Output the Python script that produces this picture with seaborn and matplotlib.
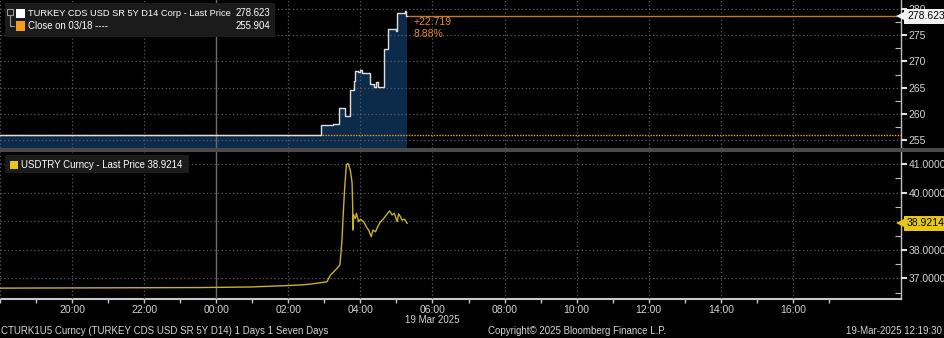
import numpy as np
import pandas as pd
import matplotlib
matplotlib.use("Agg")
import matplotlib.pyplot as plt
import matplotlib.dates as mdates
from matplotlib.ticker import MultipleLocator, FixedLocator, FuncFormatter
from matplotlib.patches import Rectangle
from matplotlib.lines import Line2D
import seaborn as sns

# ---------------- data ----------------
start = pd.Timestamp("2025-03-18 18:00")
span_hours = 25.0  # 18:00 (18 Mar) -> 19:00 (19 Mar)

# TURKEY CDS USD SR 5Y D14 (hours after 18:00 on 18 Mar)
cds_hours = [0.0, 8.917, 9.25, 9.40, 9.58, 9.72, 9.81, 9.86, 9.93, 10.0, 10.05,
             10.26, 10.37, 10.44, 10.48, 10.65, 10.76, 11.0, 11.02, 11.23, 11.26, 11.30]
cds_values = [255.904, 257.9, 258.0, 261.1, 259.6, 264.5, 266.2, 268.1, 267.9, 268.3, 267.7,
              265.6, 265.1, 266.0, 265.1, 272.3, 276.2, 275.8, 279.2, 279.6, 278.623, 278.623]
cds_last = 278.623
cds_close = 255.904
cds_change = "+22.719"
cds_change_pct = "8.88%"
cds_ticks = [255, 260, 265, 270, 275, 280]

# USDTRY
try_hours = [0.0, 5.56, 6.94, 7.78, 8.33, 8.61, 9.07, 9.17, 9.26, 9.35, 9.43, 9.46, 9.49,
             9.52, 9.56, 9.61, 9.66, 9.72, 9.77, 9.80, 9.81, 9.86, 9.89, 9.95, 10.0, 10.09,
             10.19, 10.23, 10.30, 10.35, 10.42, 10.48, 10.56, 10.65, 10.72, 10.81, 10.88,
             10.94, 11.02, 11.06, 11.11, 11.16, 11.22, 11.30]
try_values = [36.66, 36.68, 36.70, 36.74, 36.77, 36.80, 36.88, 37.12, 37.23, 37.35, 37.47,
              37.88, 38.37, 39.16, 40.09, 40.97, 41.02, 40.79, 40.33, 38.69, 39.22, 39.10,
              39.28, 38.98, 39.07, 38.98, 38.75, 38.69, 38.46, 38.69, 38.63, 38.81, 38.98,
              39.10, 39.22, 39.36, 39.22, 39.28, 38.98, 39.26, 39.16, 39.04, 39.07, 38.9214]
try_last = 38.9214
try_ticks = [37, 38, 39, 40, 41]

# x axis: labelled 2-hour ticks (hours after start) and hourly minor ticks
x_major_hours = [0, 2, 4, 6, 8, 10, 12, 14, 16, 18, 20, 22]
x_major_labels = ["", "20:00", "22:00", "00:00", "02:00", "04:00", "06:00",
                  "08:00", "10:00", "12:00", "14:00", "16:00"]
x_minor_hours = [1, 3, 5, 7, 9, 11, 13, 15, 17, 19, 21, 23]

cds_label = "TURKEY CDS USD SR 5Y D14 Corp - Last Price"
close_label = "Close on 03/18 ----"
try_label = "USDTRY Curncy - Last Price"
date_label = "19 Mar 2025"
footer_left = "CTURK1U5 Curncy (TURKEY CDS USD SR 5Y D14) 1 Days 1 Seven Days"
footer_mid = "Copyright\u00a9 2025 Bloomberg Finance L.P."
footer_right = "19-Mar-2025 12:19:30"

# ---------------- style ----------------
sns.set_theme(style="dark")
plt.rcParams['font.family'] = ['Liberation Sans', 'DejaVu Sans']
plt.rcParams['axes.facecolor'] = 'black'
plt.rcParams['figure.facecolor'] = 'black'

W, H = 945, 338
FS = 7
LFS = 6.9
TXT = '#d4d4d4'
GRID = '#5c5c5c'
NAVY = '#0c2a4a'
ORANGE = '#e58a25'
ORANGE_LINE = '#c8782e'
YELLOW = '#c9b22a'
YELLOW_BOX = '#e6c619'

cds_t = start + pd.to_timedelta(cds_hours, unit='h')
try_t = start + pd.to_timedelta(try_hours, unit='h')
end = start + pd.Timedelta(hours=span_hours)
midnight = pd.Timestamp("2025-03-19 00:00")
major_t = [mdates.date2num(start + pd.Timedelta(hours=h)) for h in x_major_hours]
minor_t = [mdates.date2num(start + pd.Timedelta(hours=h)) for h in x_minor_hours]

fig = plt.figure(figsize=(W / 100, H / 100), dpi=100, facecolor='black')


def fx(x):
    return x / W


def fy(y):
    return 1 - y / H


ax1 = fig.add_axes([0, fy(148), fx(901), 148 / H])
ax2 = fig.add_axes([0, fy(299), fx(901), 147 / H])

for ax in (ax1, ax2):
    ax.set_facecolor('black')
    ax.set_xlim(start, end)
    ax.set_axisbelow(False)
    ax.xaxis.set_major_locator(FixedLocator(major_t))
    ax.xaxis.set_minor_locator(FixedLocator(minor_t))
    ax.xaxis.set_major_formatter(FuncFormatter(
        lambda v, p: x_major_labels[p] if p is not None and p < len(x_major_labels) else ""))
    ax.grid(True, which='major', color=GRID, linestyle=(0, (1, 2)), linewidth=0.9)
    ax.axvline(midnight, color='#6a6a6a', lw=1.0, zorder=2.6)
    for s in ('left', 'top', 'bottom'):
        ax.spines[s].set_visible(False)
    ax.spines['right'].set_color('#bdbdbd')
    ax.spines['right'].set_linewidth(1.0)
    ax.yaxis.tick_right()
    ax.tick_params(axis='y', which='major', direction='out', length=4, width=1.5,
                   colors='#e0e0e0', labelcolor=TXT, labelsize=FS + 0.5, pad=1.5)
    ax.tick_params(axis='y', which='minor', direction='in', length=4, width=0.8,
                   colors='#bdbdbd', right=True)

# ---------- top panel: CDS ----------
ax1.set_ylim(253.5, 281.7)
ax1.fill_between(cds_t, cds_values, 253.5, step='post', color=NAVY, lw=0, zorder=1)
sns.lineplot(x=cds_t, y=cds_values, ax=ax1, drawstyle='steps-post', color='#dedede',
             lw=1.0, zorder=4, legend=False)
ax1.axhline(cds_close, color='#f0a020', ls=(0, (1, 1)), lw=1.0, zorder=3)
ax1.plot([cds_t[-1], end], [cds_last, cds_last], color=ORANGE_LINE, lw=1.0, zorder=3)
ax1.yaxis.set_major_locator(FixedLocator(cds_ticks))
ax1.yaxis.set_minor_locator(MultipleLocator(2.5))
ax1.yaxis.set_major_formatter(FuncFormatter(lambda v, p: f"{v:.0f}"))
ax1.tick_params(axis='x', which='both', bottom=False, labelbottom=False)
ax1.set_xlabel('')
ax1.set_ylabel('')

ax1.annotate(cds_change, xy=(cds_t[-1], cds_last), xytext=(6, -6), textcoords='offset pixels',
             ha='left', va='center', color=ORANGE, fontsize=FS + 0.5, zorder=5)
ax1.annotate(cds_change_pct, xy=(cds_t[-1], cds_last), xytext=(6, -18), textcoords='offset pixels',
             ha='left', va='center', color=ORANGE, fontsize=FS + 0.5, zorder=5)
ax1.annotate(f"{cds_last:.3f}", xy=(1, cds_last), xycoords=('axes fraction', 'data'),
             xytext=(6, 0), textcoords='offset pixels', ha='left', va='center',
             color='black', fontsize=FS + 0.5, annotation_clip=False, zorder=6,
             bbox=dict(boxstyle='square,pad=0.25', fc='#f2f2f2', ec='none'))
ax1.plot([1.0], [cds_last], marker='<', ms=7, color='#f2f2f2', mew=0,
         transform=ax1.get_yaxis_transform(), clip_on=False, zorder=6)

# ---------- bottom panel: USDTRY ----------
ax2.set_ylim(36.28, 41.42)
sns.lineplot(x=try_t, y=try_values, ax=ax2, color=YELLOW, lw=1.0, zorder=4, legend=False)
ax2.yaxis.set_major_locator(FixedLocator(try_ticks))
ax2.yaxis.set_minor_locator(MultipleLocator(0.5))
ax2.yaxis.set_major_formatter(FuncFormatter(lambda v, p: f"{v:.4f}"))
ax2.spines['bottom'].set_visible(True)
ax2.spines['bottom'].set_color('#c8c8c8')
ax2.spines['bottom'].set_linewidth(1.5)
ax2.tick_params(axis='x', which='major', direction='out', length=3, width=1,
                colors='#c8c8c8', labelcolor=TXT, labelsize=FS + 0.5, pad=1, bottom=True)
ax2.tick_params(axis='x', which='minor', direction='out', length=3, width=1,
                colors='#c8c8c8', bottom=True)
ax2.set_xlabel('')
ax2.set_ylabel('')
ax2.annotate(f"{try_last:.4f}", xy=(1, try_last), xycoords=('axes fraction', 'data'),
             xytext=(6, 0), textcoords='offset pixels', ha='left', va='center',
             color='black', fontsize=FS + 0.5, annotation_clip=False, zorder=6,
             bbox=dict(boxstyle='square,pad=0.25', fc=YELLOW_BOX, ec='none'))
ax2.plot([1.0], [try_last], marker='<', ms=7, color=YELLOW_BOX, mew=0,
         transform=ax2.get_yaxis_transform(), clip_on=False, zorder=6)

# ---------- separator and legend boxes ----------
fig.add_artist(Rectangle((0, fy(151.5)), 1, 3.5 / H, transform=fig.transFigure,
                         fc='#4a4a4a', ec='none', zorder=10))

fig.add_artist(Rectangle((fx(5), fy(37)), fx(270), 34 / H, transform=fig.transFigure,
                         fc='#1b1b1b', ec='none', zorder=10))
# tree icon
fig.add_artist(Rectangle((fx(7), fy(15)), fx(6), 6 / H, transform=fig.transFigure,
                         fc='none', ec='#9a9a9a', lw=0.8, zorder=11))
fig.add_artist(Line2D([fx(10), fx(10), fx(14)], [fy(15), fy(26), fy(26)],
                      transform=fig.transFigure, color='#9a9a9a', lw=0.8, zorder=11))
fig.add_artist(Rectangle((fx(16), fy(18)), fx(9), 9 / H, transform=fig.transFigure,
                         fc='white', ec='none', zorder=11))
fig.add_artist(Rectangle((fx(16), fy(30.5)), fx(9), 9 / H, transform=fig.transFigure,
                         fc='#f39c1e', ec='none', zorder=11))
fig.text(fx(28), fy(13.5), cds_label, color='white', fontsize=LFS - 0.2, va='center', ha='left', zorder=12)
fig.text(fx(270), fy(13.5), f"{cds_last:.3f}", color='white', fontsize=LFS, va='center', ha='right', zorder=12)
fig.text(fx(28), fy(26), close_label, color='white', fontsize=LFS, va='center', ha='left', zorder=12)
fig.text(fx(270), fy(26), f"{cds_close:.3f}", color='white', fontsize=LFS, va='center', ha='right', zorder=12)

fig.add_artist(Rectangle((fx(5), fy(173)), fx(184), 18 / H, transform=fig.transFigure,
                         fc='#1b1b1b', ec='none', zorder=10))
fig.add_artist(Rectangle((fx(10), fy(169.5)), fx(8), 8 / H, transform=fig.transFigure,
                         fc=YELLOW_BOX, ec='none', zorder=11))
fig.text(fx(21), fy(165.5), f"{try_label} {try_last:.4f}", color='white', fontsize=LFS,
         va='center', ha='left', zorder=12)

# ---------- footer ----------
fig.text(fx(432), fy(320), date_label, color=TXT, fontsize=FS, ha='center', va='center')
fig.text(fx(1), fy(331), footer_left, color=TXT, fontsize=FS, ha='left', va='center')
fig.text(fx(577), fy(331), footer_mid, color=TXT, fontsize=FS, ha='center', va='center')
fig.text(fx(942), fy(331), footer_right, color=TXT, fontsize=FS, ha='right', va='center')

fig.savefig("out.png", dpi=100, facecolor='black')
